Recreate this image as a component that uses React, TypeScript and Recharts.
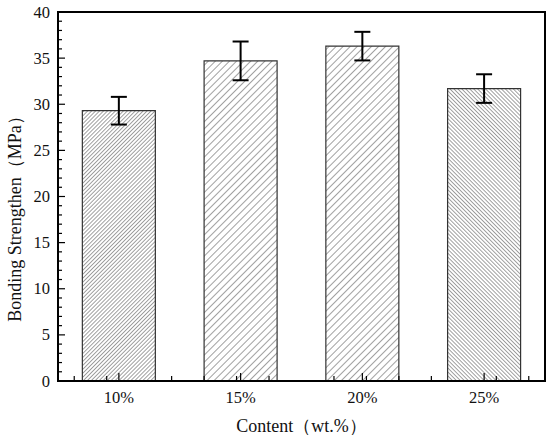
import { BarChart, Bar, XAxis, YAxis, ErrorBar, Cell, Label, ReferenceArea, ReferenceLine } from 'recharts';

const categories = ['10%', '15%', '20%', '25%'];
const strength = [29.3, 34.7, 36.3, 31.7];
const strengthErr = [1.5, 2.1, 1.55, 1.55];
const yTicks = Array.from({ length: 41 }, (_, i) => i);
const xMinorTicks = [0.1, 0.3, 0.7, 0.9, 1.1, 1.3, 1.7, 1.9, 2.1, 2.3, 2.7, 2.9, 3.1, 3.3, 3.7, 3.9];

const data = categories.map((c, i) => ({ content: c, strength: strength[i], err: strengthErr[i] }));

const FONT = '"Liberation Serif", "Times New Roman", serif';
const hatchIds = ['hatch1', 'hatch2', 'hatch2', 'hatch3'];

function YTick({ x, y, payload }: any) {
  const major = payload.value % 5 === 0;
  return (
    <g>
      <line x1={x} x2={x + (major ? 7 : 4)} y1={y} y2={y} stroke="#000" strokeWidth={1.2} />
      {major && (
        <text x={x - 8} y={y} dy={5.5} textAnchor="end" fontSize={16.5} fontFamily={FONT} fill="#111">
          {payload.value}
        </text>
      )}
    </g>
  );
}

function XTick({ x, y, payload }: any) {
  return (
    <g>
      <line x1={x} x2={x} y1={y} y2={y - 8} stroke="#000" strokeWidth={1.2} />
      <text x={x} y={y + 22} textAnchor="middle" fontSize={16.5} fontFamily={FONT} fill="#111">
        {payload.value}
      </text>
    </g>
  );
}

// short inward tick at the bottom of a full-height reference line
function minorTick(props: any) {
  const bottom = Math.max(props.y1, props.y2);
  return <line x1={props.x1} x2={props.x1} y1={bottom} y2={bottom - 5} stroke="#000" strokeWidth={1.2} />;
}

function YTitle({ viewBox }: any) {
  const cx = viewBox.x + 15;
  const cy = viewBox.y + viewBox.height / 2 + 18;
  return (
    <text
      x={cx}
      y={cy}
      transform={`rotate(-90 ${cx} ${cy})`}
      textAnchor="middle"
      dominantBaseline="central"
      fontSize={18}
      fontFamily={FONT}
      fill="#111"
    >
      Bonding Strengthen（MPa）
    </text>
  );
}

export default function App() {
  return (
    <div style={{ position: 'absolute', left: 0, top: 0, background: '#fff' }}>
      <BarChart
        width={550}
        height={439}
        data={data}
        margin={{ top: 12, right: 5, left: 0, bottom: 0 }}
        barCategoryGap="20%"
      >
        <defs>
          <pattern id="hatch1" width={2.8} height={10} patternUnits="userSpaceOnUse" patternTransform="rotate(45)">
            <rect width={2.8} height={10} fill="#fff" />
            <line x1={0} y1={0} x2={0} y2={10} stroke="#444" strokeWidth={1} />
          </pattern>
          <pattern id="hatch2" width={5} height={10} patternUnits="userSpaceOnUse" patternTransform="rotate(45)">
            <rect width={5} height={10} fill="#fff" />
            <line x1={0} y1={0} x2={0} y2={10} stroke="#444" strokeWidth={1} />
          </pattern>
          <pattern id="hatch3" width={2.8} height={10} patternUnits="userSpaceOnUse" patternTransform="rotate(-45)">
            <rect width={2.8} height={10} fill="#fff" />
            <line x1={0} y1={0} x2={0} y2={10} stroke="#444" strokeWidth={1} />
          </pattern>
        </defs>
        <XAxis
          dataKey="content"
          height={58}
          axisLine={{ stroke: '#000', strokeWidth: 2 }}
          tickLine={false}
          tickSize={0}
          tickMargin={0}
          tick={<XTick />}
          interval={0}
        >
          <Label value="Content（wt.%）" position="insideBottom" offset={7} fontSize={18} fontFamily={FONT} fill="#111" />
        </XAxis>
        <XAxis xAxisId="minor" type="number" domain={[0, 4]} allowDataOverflow hide />
        <YAxis
          domain={[0, 40]}
          ticks={yTicks}
          interval={0}
          width={58}
          axisLine={{ stroke: '#000', strokeWidth: 2 }}
          tickLine={false}
          tickSize={0}
          tickMargin={0}
          tick={<YTick />}
        >
          <Label content={<YTitle />} />
        </YAxis>
        <ReferenceArea y1={0} y2={40} fill="none" stroke="#000" strokeWidth={2} fillOpacity={0} ifOverflow="visible" />
        {xMinorTicks.map((t) => (
          <ReferenceLine key={t} xAxisId="minor" x={t} shape={minorTick} ifOverflow="visible" />
        ))}
        <Bar dataKey="strength" stroke="#333" strokeWidth={1.2} isAnimationActive={false}>
          {data.map((d, i) => (
            <Cell key={d.content} fill={`url(#${hatchIds[i]})`} />
          ))}
          <ErrorBar dataKey="err" width={8} strokeWidth={2} stroke="#000" isAnimationActive={false} />
        </Bar>
      </BarChart>
    </div>
  );
}
